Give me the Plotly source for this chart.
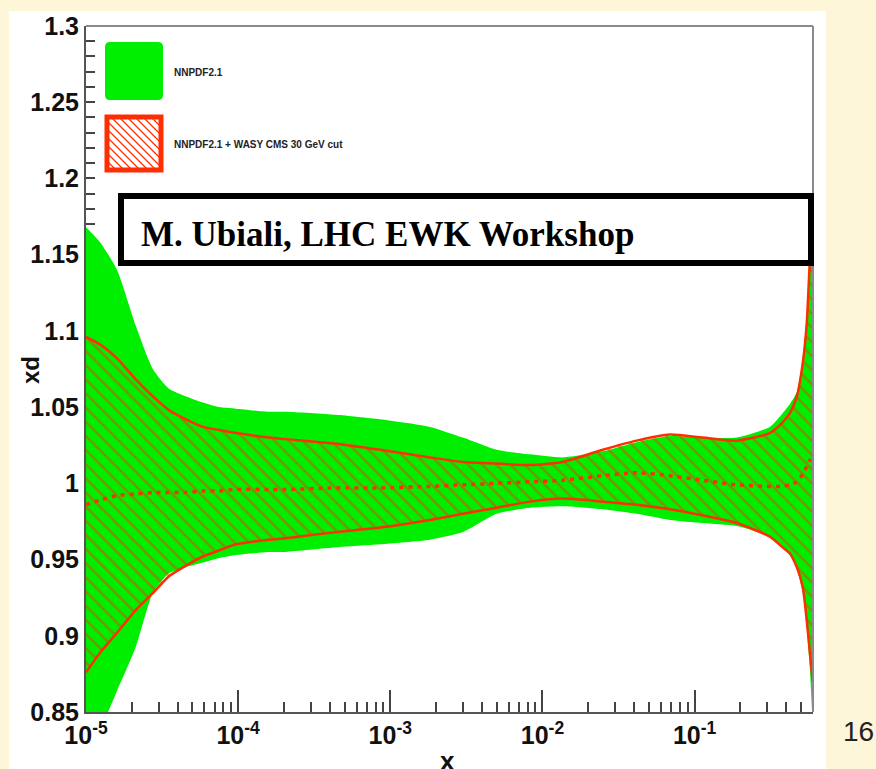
import plotly.graph_objects as go

# ---------------- data ----------------
x_vals = [1.0e-5, 1.24e-5, 1.60e-5, 2.13e-5, 2.75e-5, 3.51e-5, 4.54e-5, 5.87e-5, 7.48e-5, 9.7e-5,
          1.59e-4, 2.06e-4, 4.40e-4, 8.55e-4, 1.82e-3, 3.0e-3, 5.0e-3, 8.26e-3, 0.0136, 0.0249,
          0.0416, 0.0687, 0.113, 0.189, 0.312, 0.379, 0.423, 0.470, 0.514, 0.546, 0.571, 0.598]

# NNPDF2.1 band (green)
nnpdf_up = [1.168, 1.158, 1.140, 1.103, 1.075, 1.062, 1.057, 1.053, 1.050, 1.049,
            1.047, 1.047, 1.045, 1.042, 1.037, 1.030, 1.022, 1.019, 1.017, 1.021,
            1.027, 1.031, 1.030, 1.030, 1.037, 1.046, 1.052, 1.060, 1.082, 1.110, 1.145, 1.170]
nnpdf_lo = [0.820, 0.838, 0.864, 0.893, 0.928, 0.941, 0.945, 0.948, 0.951, 0.953,
            0.955, 0.955, 0.958, 0.960, 0.963, 0.968, 0.980, 0.984, 0.985, 0.983,
            0.980, 0.976, 0.974, 0.972, 0.965, 0.958, 0.953, 0.944, 0.928, 0.905, 0.880, 0.840]

# NNPDF2.1 + WASY CMS 30 GeV cut band (red hatched)
wasy_up = [1.096, 1.091, 1.082, 1.068, 1.057, 1.048, 1.042, 1.037, 1.035, 1.033,
           1.030, 1.029, 1.026, 1.022, 1.017, 1.014, 1.013, 1.012, 1.014, 1.022,
           1.028, 1.032, 1.030, 1.028, 1.033, 1.040, 1.046, 1.057, 1.079, 1.105, 1.144, 1.170]
wasy_lo = [0.876, 0.889, 0.902, 0.917, 0.928, 0.939, 0.946, 0.952, 0.956, 0.960,
           0.963, 0.964, 0.968, 0.971, 0.976, 0.980, 0.984, 0.988, 0.990, 0.988,
           0.986, 0.983, 0.979, 0.974, 0.965, 0.958, 0.954, 0.945, 0.932, 0.910, 0.890, 0.870]
wasy_c = [0.986, 0.989, 0.992, 0.993, 0.994, 0.994, 0.994, 0.995, 0.995, 0.996,
          0.996, 0.996, 0.997, 0.997, 0.998, 0.999, 1.000, 1.001, 1.002, 1.005,
          1.007, 1.005, 1.002, 0.999, 0.998, 0.998, 0.999, 1.001, 1.006, 1.011, 1.015, 1.017]

x_major = [1e-5, 1e-4, 1e-3, 1e-2, 1e-1]
x_major_text = ["10<sup>-5</sup>", "10<sup>-4</sup>", "10<sup>-3</sup>", "10<sup>-2</sup>", "10<sup>-1</sup>"]
x_minor = [m * d for d in x_major for m in range(2, 10) if m * d < 0.6]
y_major = [0.85, 0.9, 0.95, 1.0, 1.05, 1.1, 1.15, 1.2, 1.25, 1.3]
y_major_text = ["0.85", "0.9", "0.95", "1", "1.05", "1.1", "1.15", "1.2", "1.25", "1.3"]

x_title = "x"
y_title = "xd"
legend_names = ["NNPDF2.1", "NNPDF2.1 + WASY CMS 30 GeV cut"]
box_text = "M. Ubiali, LHC EWK Workshop"
page_number = "16"

# ---------------- styling ----------------
GREEN = "#00ee00"
RED = "#ff2e00"
CREAM = "#fef6d8"
SANS = "Liberation Sans, Arial, Helvetica, sans-serif"
SERIF = "Liberation Serif, Times New Roman, serif"

W, H = 876, 769
L, R, T, B = 86, 63, 26, 57
PW, PH = W - L - R, H - T - B


def px(xp):
    return (xp - L) / PW


def py(yp):
    return (H - B - yp) / PH


fig = go.Figure()

# green band
fig.add_trace(go.Scatter(x=x_vals, y=nnpdf_lo, mode="lines", line=dict(width=0, shape="spline", smoothing=0.6),
                         showlegend=False, hoverinfo="skip"))
fig.add_trace(go.Scatter(x=x_vals, y=nnpdf_up, mode="lines", fill="tonexty", fillcolor=GREEN,
                         line=dict(width=0, shape="spline", smoothing=0.6), name=legend_names[0],
                         showlegend=False))

# red hatched band
fig.add_trace(go.Scatter(x=x_vals, y=wasy_lo, mode="lines", line=dict(width=2.5, color=RED, shape="spline", smoothing=0.6),
                         showlegend=False, hoverinfo="skip"))
fig.add_trace(go.Scatter(x=x_vals, y=wasy_up, mode="lines", fill="tonexty", fillcolor="rgba(0,0,0,0)",
                         fillpattern=dict(shape="\\", fgcolor=RED, bgcolor="rgba(0,0,0,0)", size=10, solidity=0.22),
                         line=dict(width=2.5, color=RED, shape="spline", smoothing=0.6), name=legend_names[1],
                         showlegend=False))
fig.add_trace(go.Scatter(x=x_vals, y=wasy_c, mode="lines",
                         line=dict(width=3.5, color=RED, dash="4px,5px", shape="spline", smoothing=0.6),
                         showlegend=False))

shapes = []
# white slide panel
shapes.append(dict(type="rect", xref="paper", yref="paper", x0=px(9), x1=px(826), y0=py(790), y1=py(11),
                   fillcolor="white", line=dict(width=0), layer="below"))
# top and right frame
shapes.append(dict(type="line", xref="paper", yref="paper", x0=0, x1=1, y0=1, y1=1,
                   line=dict(color="#8a8a8a", width=2), layer="above"))
shapes.append(dict(type="line", xref="paper", yref="paper", x0=1, x1=1, y0=0, y1=1,
                   line=dict(color="#8a8a8a", width=2), layer="above"))

# legend swatches (drawn in pixel space, converted to paper)
gx0, gx1, gy0, gy1, r = 105, 163, 42, 100, 5
path = (f"M {px(gx0 + r)} {py(gy0)} L {px(gx1 - r)} {py(gy0)} Q {px(gx1)} {py(gy0)} {px(gx1)} {py(gy0 + r)} "
        f"L {px(gx1)} {py(gy1 - r)} Q {px(gx1)} {py(gy1)} {px(gx1 - r)} {py(gy1)} "
        f"L {px(gx0 + r)} {py(gy1)} Q {px(gx0)} {py(gy1)} {px(gx0)} {py(gy1 - r)} "
        f"L {px(gx0)} {py(gy0 + r)} Q {px(gx0)} {py(gy0)} {px(gx0 + r)} {py(gy0)} Z")
shapes.append(dict(type="path", xref="paper", yref="paper", path=path, fillcolor=GREEN, line=dict(width=0),
                   layer="above"))

rx0, rx1, ry0, ry1 = 107, 161, 117, 170
segs = []
step = 8
w, h = rx1 - rx0, ry1 - ry0
for k in range(-60, 60, step):
    # box-local line y = x + k (runs down-right on screen)
    cand = []
    for xx in (0, w):
        yy = xx + k
        if 0 <= yy <= h:
            cand.append((xx, yy))
    for yy in (0, h):
        xx = yy - k
        if 0 <= xx <= w:
            cand.append((xx, yy))
    cand = sorted(set(cand))
    if len(cand) >= 2:
        (a, b), (c, d) = cand[0], cand[-1]
        segs.append(f"M {px(rx0 + a)} {py(ry0 + b)} L {px(rx0 + c)} {py(ry0 + d)}")
shapes.append(dict(type="rect", xref="paper", yref="paper", x0=px(rx0), x1=px(rx1), y0=py(ry1), y1=py(ry0),
                   fillcolor="white", line=dict(color=RED, width=5), layer="above"))
shapes.append(dict(type="path", xref="paper", yref="paper", path=" ".join(segs),
                   line=dict(color=RED, width=1.2), layer="above"))

# author box
shapes.append(dict(type="rect", xref="paper", yref="paper", x0=px(121), x1=px(811), y0=py(263), y1=py(196),
                   fillcolor="white", line=dict(color="black", width=6), layer="above"))

annotations = [
    dict(x=px(172), y=py(72), xref="paper", yref="paper", text=legend_names[0], showarrow=False,
         xanchor="left", yanchor="middle", font=dict(family=SANS, size=10, color="#222", weight="bold")),
    dict(x=px(172), y=py(144), xref="paper", yref="paper", text=legend_names[1], showarrow=False,
         xanchor="left", yanchor="middle", font=dict(family=SANS, size=10, color="#222", weight="bold")),
    dict(x=px(139), y=py(234), xref="paper", yref="paper", text=box_text, showarrow=False,
         xanchor="left", yanchor="middle", font=dict(family=SERIF, size=35, color="black", weight="bold")),
    dict(x=px(858), y=py(731), xref="paper", yref="paper", text=page_number, showarrow=False,
         xanchor="center", yanchor="middle", font=dict(family=SANS, size=28, color="#222")),
    # axis titles
    dict(x=px(447), y=py(761), xref="paper", yref="paper", text=x_title, showarrow=False,
         xanchor="center", yanchor="middle", font=dict(family=SANS, size=26, color="#111", weight="bold")),
    dict(x=px(30), y=py(370), xref="paper", yref="paper", text=y_title, showarrow=False, textangle=-90,
         xanchor="center", yanchor="middle", font=dict(family=SANS, size=24, color="#111", weight="bold")),
]

tickfont = dict(family=SANS, size=25, color="#111", weight="bold")

fig.update_layout(
    width=W, height=H,
    margin=dict(l=L, r=R, t=T, b=B, pad=0),
    paper_bgcolor=CREAM, plot_bgcolor="white",
    shapes=shapes, annotations=annotations, showlegend=False,
    xaxis=dict(type="log", range=[-5, -0.2218], showgrid=False, zeroline=False,
               showline=True, linecolor="#555", linewidth=2, layer="below traces",
               tickmode="array", tickvals=x_major, ticktext=x_major_text,
               ticks="inside", ticklen=22, tickwidth=1.5, tickcolor="#444", tickfont=tickfont,
               minor=dict(ticks="inside", ticklen=10, tickwidth=1.5, tickcolor="#444", tickvals=x_minor,
                          showgrid=False),
               automargin=False),
    yaxis=dict(range=[0.85, 1.3], showgrid=False, zeroline=False,
               showline=True, linecolor="#555", linewidth=2, layer="below traces",
               tickmode="array", tickvals=y_major, ticktext=y_major_text,
               ticks="inside", ticklen=9, tickwidth=1.5, tickcolor="#444", tickfont=tickfont,
               minor=dict(ticks="inside", ticklen=9, tickwidth=1.5, tickcolor="#444", dtick=0.01,
                          tick0=0.85, showgrid=False),
               automargin=False),
)

fig.write_html("out.html")
